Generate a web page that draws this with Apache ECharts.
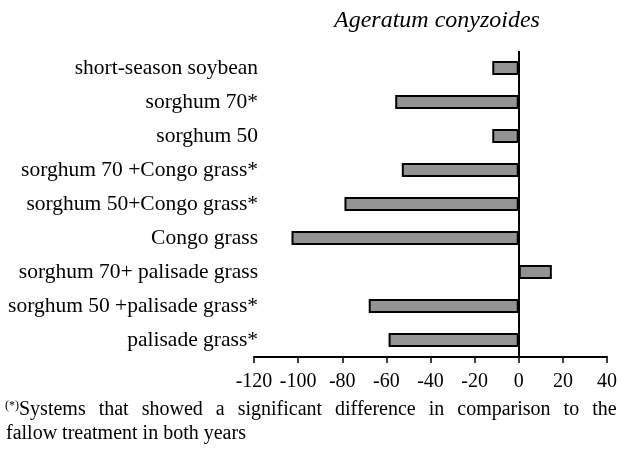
<!DOCTYPE html>
<html>
<head>
<meta charset="utf-8">
<script src="https://cdn.jsdelivr.net/npm/echarts@6/dist/echarts.min.js"></script>
<style>
html,body{margin:0;padding:0;background:#fff;}
#chart{width:622px;height:451px;}
</style>
</head>
<body>
<div id="chart"></div>
<script>
var categories = ['short-season soybean', 'sorghum 70*', 'sorghum 50', 'sorghum 70 +Congo grass*',
	'sorghum 50+Congo grass*', 'Congo grass', 'sorghum 70+ palisade grass',
	'sorghum 50 +palisade grass*', 'palisade grass*'];
var values = [-12, -56, -12, -53, -79, -103, 15, -68, -59];
var xTicks = [-120, -100, -80, -60, -40, -20, 0, 20, 40];
var noteLine1 = ['Systems', 'that', 'showed', 'a', 'significant', 'difference', 'in', 'comparison', 'to', 'the'];
var noteLine2 = 'fallow treatment in both years';

var serif = '"Liberation Serif", "DejaVu Serif", serif';

// justified first line of the footnote, built as rich text
var line1 = '{sup|(*)}';
for (var i = 0; i < noteLine1.length; i++) {
	line1 += '{w|' + noteLine1[i] + '}';
	if (i < noteLine1.length - 1) line1 += '{sp| }';
}

var chart = echarts.init(document.getElementById('chart'));
var option = {
	animation: false,
	backgroundColor: '#fff',
	title: {
		text: 'Ageratum conyzoides',
		left: 329,
		top: 4,
		textStyle: { fontFamily: serif, fontStyle: 'italic', fontWeight: 'normal', fontSize: 24, color: '#000' }
	},
	grid: { left: 254, right: 15, top: 51, bottom: 94 },
	xAxis: {
		type: 'value',
		min: xTicks[0],
		max: xTicks[xTicks.length - 1],
		interval: 20,
		splitLine: { show: false },
		axisLine: { show: true, onZero: false, lineStyle: { color: '#000', width: 2 } },
		axisTick: { show: true, length: 6, lineStyle: { color: '#000', width: 1.5 } },
		axisLabel: { margin: 15, fontFamily: serif, fontSize: 20, color: '#000' }
	},
	yAxis: {
		type: 'category',
		inverse: true,
		data: categories,
		axisLine: { show: false },
		axisTick: { show: false },
		axisLabel: { margin: -4, fontFamily: serif, fontSize: 21.5, color: '#000' }
	},
	series: [{
		type: 'bar',
		data: values,
		barWidth: 14,
		itemStyle: { color: '#939393', borderColor: '#000', borderWidth: 2 },
		markLine: {
			silent: true,
			symbol: 'none',
			label: { show: false },
			lineStyle: { color: '#000', width: 2, type: 'solid' },
			data: [{ xAxis: 0 }]
		}
	}],
	graphic: [{
		type: 'text',
		left: 5,
		top: 400,
		style: {
			text: line1,
			rich: {
				sup: { fontFamily: serif, fontSize: 12, color: '#000', verticalAlign: 'top', padding: [0, 0, 8, 0] },
				w: { fontFamily: serif, fontSize: 20, color: '#000' },
				sp: { fontFamily: serif, fontSize: 20, width: 13 }
			}
		}
	}, {
		type: 'text',
		left: 6,
		top: 424,
		style: { text: noteLine2, fontFamily: serif, fontSize: 20, fill: '#000' }
	}]
};
chart.setOption(option);
</script>
</body>
</html>
